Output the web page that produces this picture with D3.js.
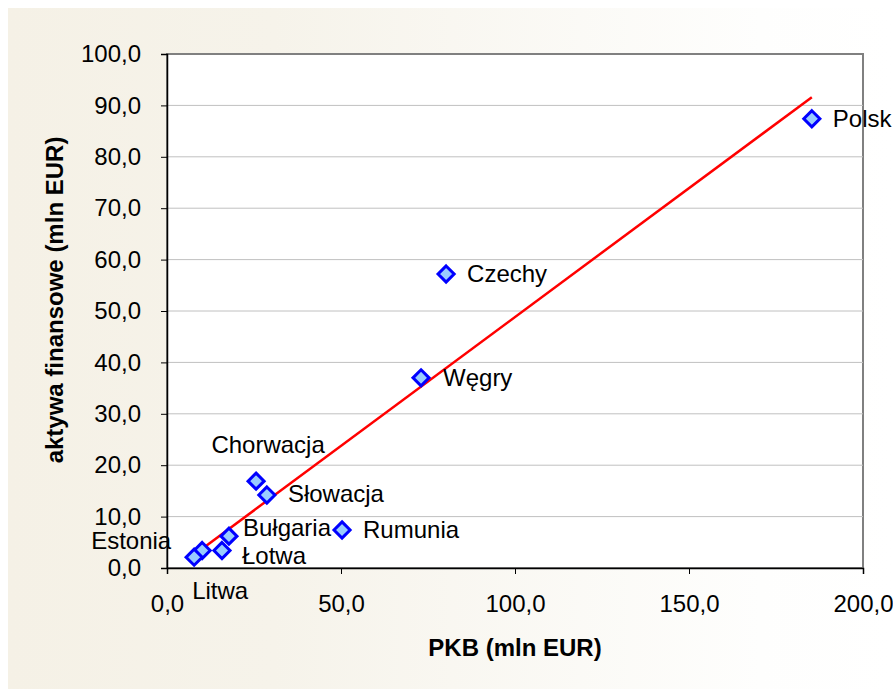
<!DOCTYPE html>
<html lang="pl">
<head>
<meta charset="UTF-8">
<title>PKB a aktywa finansowe</title>
<script src="https://cdn.jsdelivr.net/npm/d3@7"></script>
<style>
  body { margin: 0; background: #fff; }
  text { font-family: "Liberation Sans", Arial, sans-serif; fill: #000; }
</style>
</head>
<body>
<script>
// dane: kraj, PKB (mln EUR), aktywa finansowe (mln EUR)
const countries = ["Polsk", "Czechy", "Węgry", "Chorwacja", "Słowacja", "Rumunia", "Bułgaria", "Łotwa", "Litwa", "Estonia"];
const pkb = [185.3, 80.2, 73.0, 25.6, 28.7, 50.3, 17.8, 15.8, 10.1, 7.8];
const aktywa = [87.4, 57.2, 37.0, 16.9, 14.2, 7.4, 6.2, 3.4, 3.4, 2.1];
// linia trendu
const trendX = [7.8, 185.3];
const trendY = [2.6, 91.6];
const xTicks = [0, 50, 100, 150, 200];
const yTicks = [0, 10, 20, 30, 40, 50, 60, 70, 80, 90, 100];

const W = 893, H = 690;
const margin = { top: 54, left: 167, right: 30, bottom: 122 };
const iw = W - margin.left - margin.right;   // 696
const ih = H - margin.top - margin.bottom;   // 514
const FS = "24px";

const svg = d3.select("body").append("svg").attr("width", W).attr("height", H);

const grad = svg.append("defs").append("linearGradient").attr("id", "bg");
grad.append("stop").attr("offset", "0%").attr("stop-color", "#f5f1e6");
grad.append("stop").attr("offset", "30%").attr("stop-color", "#f6f3ea");
grad.append("stop").attr("offset", "85%").attr("stop-color", "#fefefd");
grad.append("stop").attr("offset", "100%").attr("stop-color", "#ffffff");
svg.append("rect").attr("x", 8).attr("y", 8).attr("width", W - 8).attr("height", H - 9)
  .attr("fill", "url(#bg)");

const x = d3.scaleLinear().domain([0, 200]).range([0, iw]);
const y = d3.scaleLinear().domain([0, 100]).range([ih, 0]);
const fmt = d => d3.format(".1f")(d).replace(".", ",");

const g = svg.append("g").attr("transform", `translate(${margin.left},${margin.top})`);

g.append("rect").attr("width", iw).attr("height", ih).attr("fill", "#fff")
  .attr("stroke", "#808080").attr("stroke-width", 2);

// siatka
g.selectAll("line.grid").data(yTicks.filter(d => d > 0 && d < 100)).enter()
  .append("line").attr("class", "grid")
  .attr("x1", 0).attr("x2", iw).attr("y1", d => y(d)).attr("y2", d => y(d))
  .attr("stroke", "#c0c0c0").attr("stroke-width", 1);

// osie
const yAxis = g.append("g").call(d3.axisLeft(y).tickValues(yTicks).tickFormat(fmt).tickSize(6).tickPadding(20));
const xAxis = g.append("g").attr("transform", `translate(0,${ih})`)
  .call(d3.axisBottom(x).tickValues(xTicks).tickFormat(fmt).tickSize(6).tickPadding(21));
[xAxis, yAxis].forEach(a => {
  a.select(".domain").attr("stroke", "#000").attr("stroke-width", 1.5);
  a.selectAll(".tick line").attr("stroke", "#000");
  a.selectAll("text").style("font-size", FS).style("font-family", "'Liberation Sans', Arial, sans-serif");
});

// linia trendu
g.append("path")
  .datum(trendX.map((d, i) => [d, trendY[i]]))
  .attr("d", d3.line().x(d => x(d[0])).y(d => y(d[1])))
  .attr("fill", "none").attr("stroke", "#ff0000").attr("stroke-width", 2.5);

// punkty
const data = countries.map((c, i) => ({ c, px: pkb[i], py: aktywa[i] }));
const diamond = d3.symbol().type(d3.symbolDiamond2).size(165);
g.selectAll("path.pt").data(data).enter().append("path").attr("class", "pt")
  .attr("d", diamond)
  .attr("transform", d => `translate(${x(d.px)},${y(d.py)})`)
  .attr("fill", "#99ccff").attr("stroke", "#0000ff").attr("stroke-width", 3);

// etykiety: [dx, dy, anchor]
const labelPos = {
  "Polsk": [21, 8, "start"], "Czechy": [21, 8, "start"], "Węgry": [22, 8, "start"],
  "Chorwacja": [12, -28, "middle"], "Słowacja": [21, 7, "start"], "Rumunia": [21, 8, "start"],
  "Bułgaria": [14, 0, "start"], "Łotwa": [20, 13, "start"], "Litwa": [18, 48, "middle"],
  "Estonia": [-63, -8, "middle"]
};
g.selectAll("text.lbl").data(data).enter().append("text").attr("class", "lbl")
  .attr("x", d => x(d.px) + labelPos[d.c][0])
  .attr("y", d => y(d.py) + labelPos[d.c][1])
  .attr("text-anchor", d => labelPos[d.c][2])
  .style("font-size", FS)
  .text(d => d.c);

// tytuły osi
svg.append("text").attr("x", margin.left + iw / 2).attr("y", 656)
  .attr("text-anchor", "middle").style("font-size", FS).style("font-weight", "bold")
  .text("PKB (mln EUR)");
svg.append("text").attr("transform", `translate(63,300) rotate(-90)`)
  .attr("text-anchor", "middle").style("font-size", FS).style("font-weight", "bold")
  .text("aktywa finansowe (mln EUR)");
</script>
</body>
</html>
